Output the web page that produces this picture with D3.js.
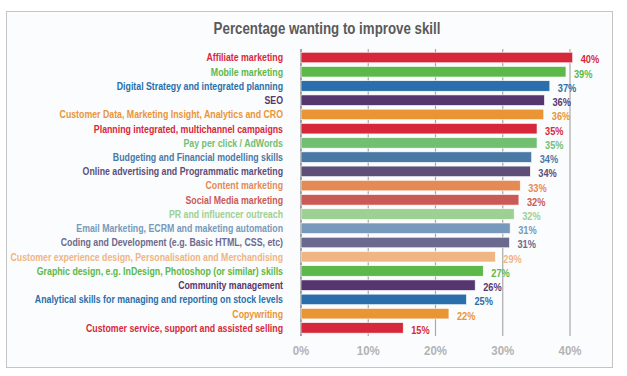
<!DOCTYPE html>
<html>
<head>
<meta charset="utf-8">
<script src="https://cdn.jsdelivr.net/npm/d3@7"></script>
<style>
  body { margin: 0; background: #ffffff; }
  svg { display: block; font-family: "Liberation Sans", Arial, sans-serif; }
</style>
</head>
<body>
<div id="chart"></div>
<script>
// Skills, top to bottom
const skills = [
    "Affiliate marketing",
    "Mobile marketing",
    "Digital Strategy and integrated planning",
    "SEO",
    "Customer Data, Marketing Insight, Analytics and CRO",
    "Planning integrated, multichannel campaigns",
    "Pay per click / AdWords",
    "Budgeting and Financial modelling skills",
    "Online advertising and Programmatic marketing",
    "Content marketing",
    "Social Media marketing",
    "PR and influencer outreach",
    "Email Marketing, ECRM and maketing automation",
    "Coding and Development (e.g. Basic HTML, CSS, etc)",
    "Customer experience design, Personalisation and Merchandising",
    "Graphic design, e.g. InDesign, Photoshop (or similar) skills",
    "Community management",
    "Analytical skills for managing and reporting on stock levels",
    "Copywriting",
    "Customer service, support and assisted selling"
];

// Percentage wanting to improve (bar lengths)
const percents = [40.4, 39.4, 37.0, 36.2, 36.1, 35.1, 35.1, 34.3, 34.1, 32.6,
                  32.4, 31.7, 31.1, 31.0, 28.9, 27.1, 25.9, 24.6, 22.0, 15.2];

const barColors = [
    "#d7283b", "#5db84a", "#2a6fab", "#56366f", "#e99536",
    "#d7283b", "#72bf72", "#4a79a6", "#5e4e78", "#e38a55",
    "#c95a55", "#9dd193", "#7799bb", "#6b6a8e", "#efb583",
    "#5db84a", "#56366f", "#2a6fab", "#e99536", "#d7283b"
];

const xTicks = [0, 10, 20, 30, 40];

const W = 627, H = 376;

const svg = d3.select("#chart").append("svg")
    .attr("width", W)
    .attr("height", H);

// The original uses a condensed face; squeeze a regular bold one horizontally
function squeeze(sel, widest, target) {
    let maxW = 0;
    sel.each(function() { maxW = Math.max(maxW, this.getComputedTextLength()); });
    return target / maxW;
}

// Frame
svg.append("rect")
    .attr("x", 6.5)
    .attr("y", 11.5)
    .attr("width", 606)
    .attr("height", 356)
    .attr("fill", "#fbfcfd")
    .attr("stroke", "#c4c4c4")
    .attr("stroke-width", 1);

// Title
const title = svg.append("text")
    .attr("text-anchor", "middle")
    .style("font-size", "17px")
    .style("font-weight", "bold")
    .style("fill", "#5a5a5a")
    .text("Percentage wanting to improve skill");
const kTitle = squeeze(title, null, 227);
title.attr("transform", `translate(327, 34) scale(${kTitle}, 1)`);

// Scales
const xScale = d3.scaleLinear()
    .domain([0, 40])
    .range([301, 570]);

const yScale = d3.scaleBand()
    .domain(skills)
    .range([50.4, 335])
    .paddingInner(0.26)
    .paddingOuter(0.13);

// Gridlines
svg.selectAll(".grid")
    .data(xTicks)
    .enter()
    .append("line")
    .attr("class", "grid")
    .attr("x1", d => xScale(d))
    .attr("x2", d => xScale(d))
    .attr("y1", 49)
    .attr("y2", 336)
    .attr("stroke", d => d === 0 ? "#8a8a8a" : "#a8a8a8")
    .attr("stroke-width", d => d === 0 ? 1.6 : 1.2);

// Tick labels
const ticks = svg.selectAll(".tick-label")
    .data(xTicks)
    .enter()
    .append("text")
    .attr("class", "tick-label")
    .attr("text-anchor", "middle")
    .style("font-size", "13px")
    .style("font-weight", "bold")
    .style("fill", "#b3b3b3")
    .text(d => d + "%");
const kTick = squeeze(ticks, null, 23);
ticks.attr("transform", d => `translate(${xScale(d)}, 354.5) scale(${kTick}, 1)`);

const rows = skills.map((s, i) => ({ skill: s, value: percents[i], color: barColors[i] }));

// Bars
svg.selectAll(".bar")
    .data(rows)
    .enter()
    .append("rect")
    .attr("class", "bar")
    .attr("x", xScale(0))
    .attr("y", d => yScale(d.skill))
    .attr("width", d => xScale(d.value) - xScale(0))
    .attr("height", yScale.bandwidth())
    .attr("fill", d => d.color)
    .attr("stroke", "#ffffff")
    .attr("stroke-width", 0.6);

// Category labels
const cats = svg.selectAll(".cat-label")
    .data(rows)
    .enter()
    .append("text")
    .attr("class", "cat-label")
    .attr("dy", "0.36em")
    .attr("text-anchor", "end")
    .style("font-size", "10.8px")
    .style("font-weight", "bold")
    .style("fill", d => d.color)
    .text(d => d.skill);
const kCat = squeeze(cats, null, 273);
cats.attr("transform", d =>
    `translate(283, ${yScale(d.skill) + yScale.bandwidth() / 2}) scale(${kCat}, 1)`);

// Value labels
const vals = svg.selectAll(".val-label")
    .data(rows)
    .enter()
    .append("text")
    .attr("class", "val-label")
    .attr("dy", "0.36em")
    .style("font-size", "11px")
    .style("font-weight", "bold")
    .style("fill", d => d.color)
    .text(d => Math.round(d.value) + "%");
const kVal = squeeze(vals, null, 18.5);
vals.attr("transform", d =>
    `translate(${xScale(d.value) + 8}, ${yScale(d.skill) + yScale.bandwidth() / 2 + 2}) scale(${kVal}, 1)`);
</script>
</body>
</html>
